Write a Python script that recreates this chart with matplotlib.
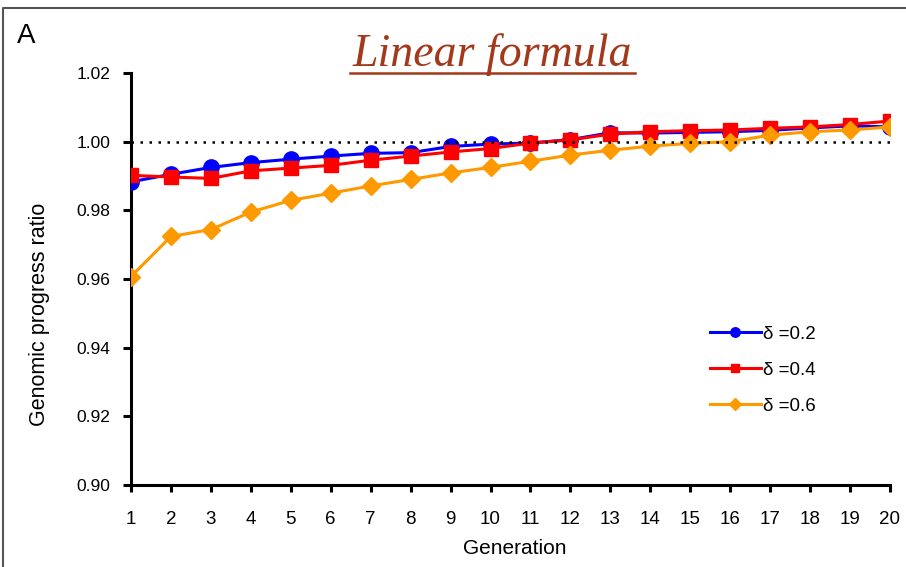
import numpy as np
import matplotlib
matplotlib.use("Agg")
from matplotlib import pyplot as plt
from matplotlib.lines import Line2D

# data
generation = np.arange(1, 21)
ratio_02 = [0.9883, 0.9905, 0.9925, 0.9939, 0.9949, 0.9958, 0.9966, 0.9968, 0.9986, 0.9993,
            0.9996, 1.0006, 1.0026, 1.0025, 1.0027, 1.0029, 1.0033, 1.0040, 1.0046, 1.0043]
ratio_04 = [0.9902, 0.9897, 0.9893, 0.9915, 0.9923, 0.9931, 0.9946, 0.9958, 0.9970, 0.9980,
            0.9996, 1.0005, 1.0022, 1.0029, 1.0032, 1.0034, 1.0039, 1.0043, 1.0050, 1.0060]
ratio_06 = [0.9607, 0.9724, 0.9744, 0.9795, 0.9829, 0.9850, 0.9871, 0.9890, 0.9909, 0.9925,
            0.9943, 0.9961, 0.9975, 0.9987, 0.9995, 1.0000, 1.0019, 1.0029, 1.0034, 1.0043]
labels = ["δ =0.2", "δ =0.4", "δ =0.6"]
yticks = [0.90, 0.92, 0.94, 0.96, 0.98, 1.00, 1.02]

plt.rcParams['font.family'] = ['Liberation Sans', 'DejaVu Sans']

W, H = 906, 567
fig = plt.figure(figsize=(W / 100, H / 100), dpi=100)
ax = fig.add_axes([131 / W, 1 - 485 / H, (890 - 131) / W, (485 - 73) / H])

ax.plot(generation, ratio_02, color="#0000FF", lw=2.2, marker="o", ms=11,
        label=labels[0], zorder=3)
ax.plot(generation, ratio_04, color="#FF0000", lw=2.2, marker="s", ms=10,
        label=labels[1], zorder=4)
ax.plot(generation, ratio_06, color="#FF9900", lw=2.2, marker="D", ms=9.5,
        label=labels[2], zorder=5)
ax.axhline(1.0, color="black", lw=1.8, ls=(0, (1, 2.6)), zorder=6)

ax.set_xlim(1, 20)
ax.set_ylim(0.90, 1.02)
ax.set_xticks(generation)
ax.set_yticks(yticks)
ax.set_yticklabels([f"{v:.2f}" for v in yticks])
for side in ("top", "right"):
    ax.spines[side].set_visible(False)
for side in ("left", "bottom"):
    ax.spines[side].set_linewidth(2.2)
    ax.spines[side].set_clip_on(False)
ax.tick_params(axis="y", direction="out", length=6, width=2.2, pad=9, labelsize=12.5)
ax.tick_params(axis="x", direction="out", length=5, width=2.2, pad=14, labelsize=13.5)

ax.set_xlabel("Generation", fontsize=15)
ax.xaxis.set_label_coords(0.506, -0.153)
ax.xaxis.label.set_va("center")
ax.set_ylabel("Genomic progress ratio", fontsize=15.5)
ax.yaxis.set_label_coords(-0.12, 0.415)
ax.yaxis.label.set_va("center")

ax.legend(loc="upper left", bbox_to_anchor=(0.753, 0.405), frameon=False,
          fontsize=13.5, handlelength=2.7, handletextpad=0.15, labelspacing=1.0,
          markerscale=0.62, borderaxespad=0)

# title, panel letter, frame
fig.text(492.5 / W, 1 - 66.5 / H, "Linear formula", ha="center", va="baseline",
         family="Liberation Serif", style="italic", fontsize=33, color="#A3391A")
fig.add_artist(Line2D([350 / W, 635 / W], [1 - 73 / H, 1 - 73 / H], color="#A3391A", lw=1.8))
fig.text(17 / W, 1 - 43 / H, "A", ha="left", va="baseline", fontsize=20)
fig.add_artist(Line2D([3 / W, 3 / W, 1], [0, 1 - 8 / H, 1 - 8 / H], color="#555555", lw=1.5))

fig.savefig("out.png", dpi=100)
